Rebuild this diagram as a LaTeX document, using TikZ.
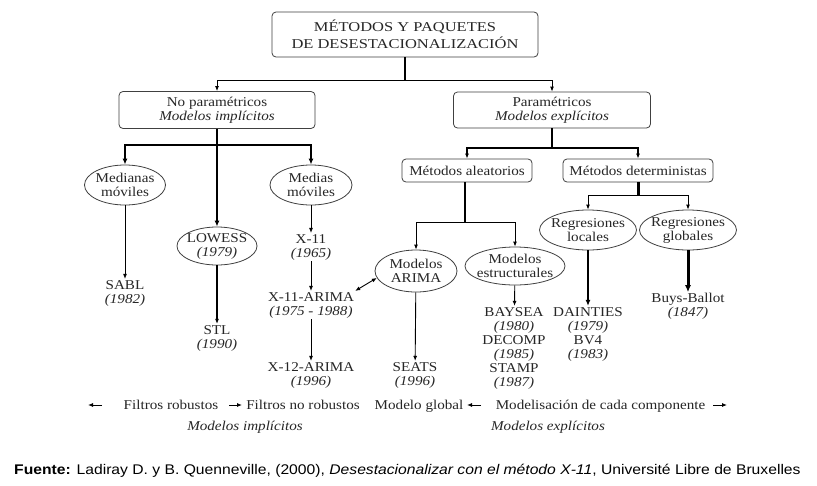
\documentclass[tikz,border=0pt]{standalone}
\usepackage{fontspec}
\setmainfont{Liberation Serif}[FakeStretch=1.12]
\newfontfamily\titlefont{Liberation Serif}[FakeStretch=1.22]
\newfontfamily\fuentefont{Liberation Sans}[FakeStretch=1.12]
\usetikzlibrary{arrows.meta,shapes.geometric}
\begin{document}
\begin{tikzpicture}[x=1pt,y=-1pt,
  every node/.style={font=\fontsize{13.5}{14}\selectfont, text=black!85, align=center, inner sep=1pt},
  rbox/.style={draw=black!75, rounded corners=4pt, line width=0.8pt, inner sep=0pt},
  oval/.style={ellipse, draw=black!75, line width=0.8pt, inner xsep=-6pt, inner ysep=0pt},
  arr/.style={-{Latex[length=5pt,width=4pt]}, line width=0.9pt},
  arrthick/.style={-{Latex[length=6pt,width=5pt]}, line width=1.6pt},
  thickline/.style={line width=2pt},
  lbl/.style={inner sep=0pt, anchor=base}
]
\useasboundingbox[fill=white] (0,0) rectangle (817,485);

% top
\node[rbox, minimum width=266pt, minimum height=45pt, font=\titlefont\fontsize{13.5}{17}\selectfont] (title) at (405,34.5)
  {MÉTODOS Y PAQUETES\\DE DESESTACIONALIZACIÓN};
\node[rbox, minimum width=196pt, minimum height=37pt] (noparam) at (217,110)
  {No paramétricos\\\textit{Modelos implícitos}};
\node[rbox, minimum width=197pt, minimum height=36pt] (param) at (552,110)
  {Paramétricos\\\textit{Modelos explícitos}};

\coordinate (j1) at (405,80);
\draw[thickline] (title.south) -- (j1);
\draw[arr] (j1) -| (noparam);
\draw[arr] (j1) -| (param);

% non parametric
\node[oval, minimum width=81pt, minimum height=40pt] (medianas) at (125,185) {Medianas\\móviles};
\node[oval, minimum width=82pt, minimum height=40pt] (medias) at (311,185) {Medias\\móviles};
\node[oval, minimum width=80pt, minimum height=38pt] (lowess) at (217,246) {LOWESS\\\textit{(1979)}};

\coordinate (j2) at (217,145);
\draw[thickline] (noparam.south) -- (j2);
\draw[arrthick, line width=1.3pt] (j2) -| (medianas);
\draw[arrthick, line width=1.3pt] (j2) -| (medias);
\draw[arrthick] (j2) -- (lowess);

\node (sabl) at (125,293) {SABL\\\textit{(1982)}};
\node (x11) at (311,247) {X-11\\\textit{(1965)}};
\node (x11arima) at (311,305) {X-11-ARIMA\\\textit{(1975 - 1988)}};
\node (x12) at (311,375) {X-12-ARIMA\\\textit{(1996)}};
\node (stl) at (217,338) {STL\\\textit{(1990)}};

\draw[arr] (medianas) -- (sabl);
\draw[arr] (medias) -- (x11);
\draw[arr] (x11) -- (x11arima);
\draw[arr] (x11arima) -- (x12);
\draw[arr, line width=1.2pt] (lowess) -- (stl);

% parametric
\node[rbox, minimum width=130pt, minimum height=23pt] (aleat) at (467,170.5) {Métodos aleatorios};
\node[rbox, minimum width=150pt, minimum height=23pt] (determ) at (638,170.5) {Métodos deterministas};
\coordinate (j3) at (552,148);
\draw[thickline] (param.south) -- (j3);
\draw[arr, line width=1.2pt] (j3) -| (aleat);
\draw[arr, line width=1.2pt] (j3) -| (determ);

\node[oval, minimum width=82pt, minimum height=42pt] (arima) at (416,271) {Modelos\\ARIMA};
\node[oval, minimum width=100pt, minimum height=38pt] (estruct) at (515,266) {Modelos\\estructurales};
\coordinate (j4) at (465,222);
\draw[thickline] (aleat.south -| j4) -- (j4);
\draw[arr] (j4) -| (arima);
\draw[arr] (j4) -| (estruct);

\draw[{Latex[length=5pt,width=4pt]}-{Latex[length=5pt,width=4pt]}, line width=0.9pt] (x11arima.north east) -- (arima.190);

\node (seats) at (415,375) {SEATS\\\textit{(1996)}};
\node (baysea) at (514,348) {BAYSEA\\\textit{(1980)}\\DECOMP\\\textit{(1985)}\\STAMP\\\textit{(1987)}};
\draw[arr] (arima) -- (seats);
\draw[arr] (estruct) -- (baysea);

\node[oval, minimum width=97pt, minimum height=40pt] (reglocal) at (588,230) {Regresiones\\locales};
\node[oval, minimum width=97pt, minimum height=40pt] (regglob) at (688,230) {Regresiones\\globales};
\coordinate (j5) at (638,195);
\draw[line width=3pt] (determ.south) -- (j5);
\draw[arr] (j5) -| (reglocal);
\draw[arr] (j5) -| (regglob);

\node (dainties) at (588,334) {DAINTIES\\\textit{(1979)}\\BV4\\\textit{(1983)}};
\node (buys) at (688,306.5) {Buys-Ballot\\\textit{(1847)}};
\draw[arrthick] (reglocal) -- (dainties);
\draw[-{Latex[length=7pt,width=6pt]}, line width=3pt] (regglob) -- (buys);

% bottom legend
\node[lbl] (fr) at (171,409) {Filtros robustos};
\node[lbl] (fnr) at (303,409) {Filtros no robustos};
\node[lbl] (mg) at (419,409) {Modelo global};
\node[lbl] (mc) at (600.5,409) {Modelisación de cada componente};
\coordinate (a1s) at (102,405); \coordinate (a1e) at (88,405);
\coordinate (a2s) at (229,405); \coordinate (a2e) at (242,405);
\coordinate (a3s) at (481,405); \coordinate (a3e) at (467,405);
\coordinate (a4s) at (713,405); \coordinate (a4e) at (727,405);
\draw[arr] (a1s) -- (a1e);
\draw[arr] (a2s) -- (a2e);
\draw[arr] (a3s) -- (a3e);
\draw[arr] (a4s) -- (a4e);
\node[lbl] (mi) at (245,430) {\textit{Modelos implícitos}};
\node[lbl] (me) at (548,430) {\textit{Modelos explícitos}};

\node[anchor=west, inner sep=0pt, font=\fuentefont\fontsize{14}{15}\selectfont, text=black] (fuente) at (14,471)
  {\textbf{Fuente:} Ladiray D. y B. Quenneville, (2000), \textit{Desestacionalizar con el método X-11}, Université Libre de Bruxelles};
\end{tikzpicture}
\end{document}
